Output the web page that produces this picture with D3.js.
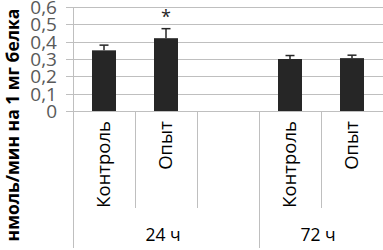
<!DOCTYPE html>
<html><head><meta charset="utf-8">
<script src="https://cdn.jsdelivr.net/npm/d3@7"></script>
<style>body{margin:0;background:#fff}svg{display:block}</style>
</head><body>
<svg id="c" width="383" height="250"></svg>
<script>
const slots = ["s1","s2","s3","s4","s5"];
const catLabels = ["Контроль","Опыт","","Контроль","Опыт"];
const values = [0.35, 0.42, null, 0.30, 0.305];
const errors = [0.03, 0.055, null, 0.02, 0.017];
const stars = ["", "*", "", "", ""];
const groups = ["24 ч", "72 ч"];
const groupSpans = [3, 2];
const yTicks = [0,0.1,0.2,0.3,0.4,0.5,0.6];
const yTickLabels = ["0","0,1","0,2","0,3","0,4","0,5","0,6"];
const yTitle = "нмоль/мин на 1 мг белка";

const svg = d3.select("#c");
const L = 73, R = 383, T = 7, B = 111;
const x = d3.scaleBand().domain(slots).range([L, R]).paddingInner(0).paddingOuter(0);
const y = d3.scaleLinear().domain([0, 0.6]).range([B, T]);
const grid = "#bfbfbf";
const font = "'Open Sans', sans-serif";

// gridlines + ticks
svg.append("g").selectAll("line").data(yTicks).join("line")
  .attr("x1", L-7).attr("x2", R).attr("y1", d=>Math.round(y(d))+0.5).attr("y2", d=>Math.round(y(d))+0.5)
  .attr("stroke", grid).attr("stroke-width", 1);
// y labels
svg.append("g").selectAll("text").data(yTicks).join("text")
  .attr("x", 57).attr("y", d=>y(d)).attr("dy","0.36em").attr("text-anchor","end")
  .attr("font-family",font).attr("font-size", 19).attr("fill","#595959")
  .text((d,i)=>yTickLabels[i]);
// axis vertical line
svg.append("line").attr("x1", L+0.5).attr("x2", L+0.5).attr("y1", T).attr("y2", 248).attr("stroke", grid);
// category separators
const sepY2 = 208;
slots.forEach((s,i)=>{
  if(i>0){
    svg.append("line").attr("x1", Math.round(x(s))+0.5).attr("x2", Math.round(x(s))+0.5)
      .attr("y1", B).attr("y2", sepY2).attr("stroke", grid);
  }
});
// group separators
let acc = 0;
groups.forEach((g,gi)=>{
  const start = x(slots[acc]);
  const endIdx = acc + groupSpans[gi] - 1;
  const end = x(slots[endIdx]) + x.bandwidth();
  if(gi>0){
    svg.append("line").attr("x1", Math.round(start)+0.5).attr("x2", Math.round(start)+0.5)
      .attr("y1", B).attr("y2", 248).attr("stroke", grid);
  }
  svg.append("text").attr("x", (start+end)/2 - 3).attr("y", 241).attr("text-anchor","middle")
    .attr("font-family",font).attr("font-size", 17.5).attr("fill","#000")
    .text(g);
  acc += groupSpans[gi];
});
// category labels rotated
slots.forEach((s,i)=>{
  if(!catLabels[i]) return;
  const cx = x(s) + x.bandwidth()/2;
  svg.append("text").attr("transform", `translate(${cx+6},121) rotate(-90)`)
    .attr("text-anchor","end")
    .attr("font-family",font).attr("font-size", 18.5).attr("fill","#000")
    .text(catLabels[i]);
});
// bars
const bw = 24;
slots.forEach((s,i)=>{
  if(values[i]==null) return;
  const cx = x(s) + x.bandwidth()/2;
  svg.append("rect").attr("x", cx-bw/2).attr("y", y(values[i])).attr("width", bw)
    .attr("height", y(0)-y(values[i])).attr("fill","#262626");
  const et = y(values[i]+errors[i]);
  svg.append("line").attr("x1", cx).attr("x2", cx).attr("y1", y(values[i])).attr("y2", et)
    .attr("stroke","#262626").attr("stroke-width",1.5);
  svg.append("line").attr("x1", cx-4.5).attr("x2", cx+4.5).attr("y1", et).attr("y2", et)
    .attr("stroke","#262626").attr("stroke-width",1.5);
  if(stars[i]){
    svg.append("text").attr("x", cx).attr("y", et-6).attr("text-anchor","middle")
      .attr("font-family",font).attr("font-size", 18).attr("fill","#262626")
      .text(stars[i]);
  }
});
// y title
svg.append("text").attr("transform","translate(19,125) rotate(-90)").attr("text-anchor","middle")
  .attr("font-family",font).attr("font-weight","bold").attr("font-size", 17.5)
  .attr("fill","#000").text(yTitle);
</script>
</body></html>
